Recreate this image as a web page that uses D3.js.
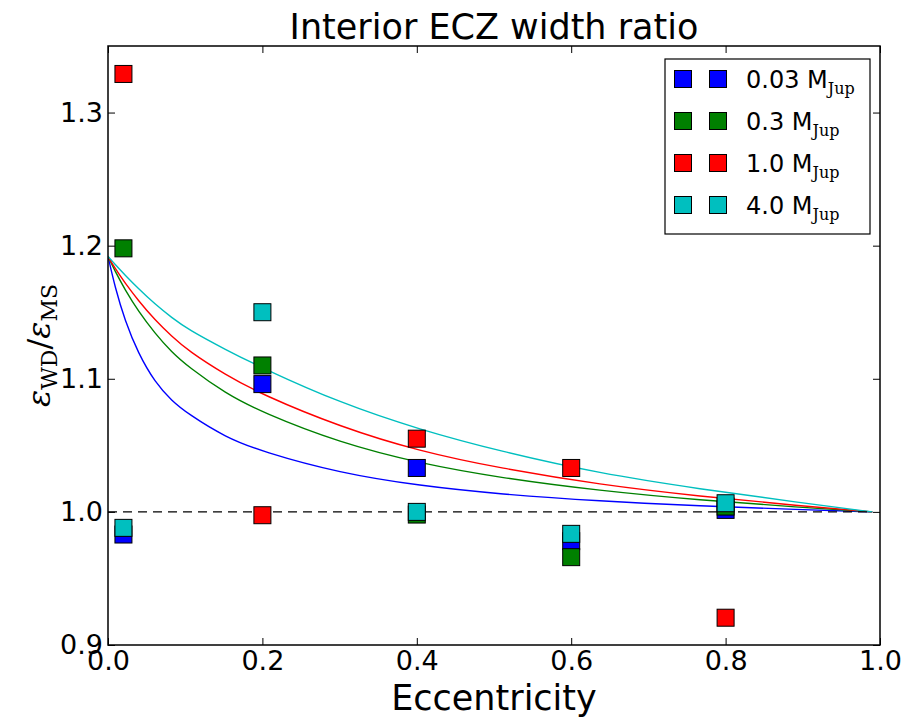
<!DOCTYPE html>
<html>
<head>
<meta charset="utf-8">
<script src="https://cdn.jsdelivr.net/npm/d3@7"></script>
<style>
  body { margin: 0; background: #fff; }
  svg { font-family: "DejaVu Sans", sans-serif; }
</style>
</head>
<body>
<div id="chart"></div>
<script>
// ---- data ----
var seriesNames = ["0.03", "0.3", "1.0", "4.0"];
var seriesColors = ["#0000ff", "#008000", "#ff0000", "#00bfbf"];

var ecc = [0.02, 0.2, 0.4, 0.6, 0.8];
var blueVals  = [0.983, 1.096, 1.033, 0.978, 1.0015];
var greenVals = [1.198, 1.110, 0.998, 0.966, 1.004];
var redVals   = [1.329, 0.9975, 1.055, 1.033, 0.9205];
var cyanVals  = [0.988, 1.150, 1.000, 0.9835, 1.0065];

// model curves
var curveE     = [0, 0.009, 0.022, 0.039, 0.061, 0.0825, 0.104, 0.152, 0.2, 0.3, 0.404, 0.508, 0.637, 0.767, 0.896, 0.99];
var blueCurve  = [1.192, 1.169, 1.1436, 1.1193, 1.0972, 1.0835, 1.0735, 1.0561, 1.0452, 1.0292, 1.0196, 1.0133, 1.0081, 1.0044, 1.0017, 1.0];
var greenCurve = [1.192, 1.181, 1.167, 1.151, 1.134, 1.120, 1.109, 1.089, 1.0746, 1.0519, 1.0364, 1.0256, 1.0159, 1.0088, 1.0035, 1.0];
var redCurve   = [1.192, 1.183, 1.172, 1.159, 1.144, 1.132, 1.121, 1.103, 1.088, 1.064, 1.0454, 1.0328, 1.0205, 1.0117, 1.0046, 1.0];
var cyanCurve  = [1.192, 1.186, 1.178, 1.168, 1.156, 1.146, 1.137, 1.122, 1.108, 1.082, 1.0617, 1.0455, 1.0288, 1.0172, 1.007, 1.0];

var xTicks = [0.0, 0.2, 0.4, 0.6, 0.8, 1.0];
var yTicks = [0.9, 1.0, 1.1, 1.2, 1.3];

var pointSets = [blueVals, greenVals, redVals, cyanVals];
var curveSets = [blueCurve, greenCurve, redCurve, cyanCurve];

// ---- layout ----  (names avoid window.top etc.)
var W = 914, H = 721;
var pL = 108, pR = 880, pT = 46, pB = 645;

var svg = d3.select("#chart").append("svg")
    .attr("width", W)
    .attr("height", H);

var x = d3.scaleLinear().domain([0, 1]).range([pL, pR]);
var y = d3.scaleLinear().domain([0.9, 1.35]).range([pB, pT]);

svg.append("defs").append("clipPath").attr("id", "clip")
  .append("rect")
    .attr("x", pL).attr("y", pT)
    .attr("width", pR - pL).attr("height", pB - pT);

var plot = svg.append("g").attr("clip-path", "url(#clip)");

// curves
var line = d3.line()
    .x(function(d) { return x(d[0]); })
    .y(function(d) { return y(d[1]); })
    .curve(d3.curveBasis);

curveSets.forEach(function(vals, i) {
  plot.append("path")
      .datum(curveE.map(function(e, j) { return [e, vals[j]]; }))
      .attr("d", line)
      .attr("fill", "none")
      .attr("stroke", seriesColors[i])
      .attr("stroke-width", 1.4);
});

// dashed unity line
plot.append("path")
    .datum([[0, 1], [0.99, 1]])
    .attr("d", line)
    .attr("stroke", "black")
    .attr("stroke-width", 1.4)
    .attr("stroke-dasharray", "9,6");

// markers
var ms = 17;
pointSets.forEach(function(vals, i) {
  plot.selectAll(".m" + i)
      .data(ecc.map(function(e, j) { return [e, vals[j]]; }))
    .enter().append("rect")
      .attr("class", "m" + i)
      .attr("x", function(d) { return x(d[0]) - ms / 2; })
      .attr("y", function(d) { return y(d[1]) - ms / 2; })
      .attr("width", ms)
      .attr("height", ms)
      .attr("fill", seriesColors[i])
      .attr("stroke", "black")
      .attr("stroke-width", 1);
});

// axes with inward ticks on all four sides
var tickLen = 7;
svg.append("g")
    .attr("transform", "translate(0," + pB + ")")
    .call(d3.axisBottom(x).tickValues(xTicks).tickSize(-tickLen).tickPadding(6).tickFormat(d3.format(".1f")));
svg.append("g")
    .attr("transform", "translate(0," + pT + ")")
    .call(d3.axisTop(x).tickValues(xTicks).tickSize(-tickLen).tickFormat(""));
svg.append("g")
    .attr("transform", "translate(" + pL + ",0)")
    .call(d3.axisLeft(y).tickValues(yTicks).tickSize(-tickLen).tickPadding(5).tickFormat(d3.format(".1f")));
svg.append("g")
    .attr("transform", "translate(" + pR + ",0)")
    .call(d3.axisRight(y).tickValues(yTicks).tickSize(-tickLen).tickFormat(""));

svg.selectAll(".domain").remove();
svg.selectAll(".tick line").attr("stroke", "black").attr("stroke-width", 1);
svg.selectAll(".tick text")
    .attr("font-family", "DejaVu Sans, sans-serif")
    .attr("font-size", 27)
    .attr("fill", "black");

svg.append("rect")
    .attr("x", pL).attr("y", pT)
    .attr("width", pR - pL).attr("height", pB - pT)
    .attr("fill", "none")
    .attr("stroke", "black")
    .attr("stroke-width", 1.5);

// title and labels
svg.append("text")
    .attr("x", (pL + pR) / 2)
    .attr("y", 39)
    .attr("text-anchor", "middle")
    .attr("font-size", 35)
    .text("Interior ECZ width ratio");

svg.append("text")
    .attr("x", (pL + pR) / 2)
    .attr("y", 710)
    .attr("text-anchor", "middle")
    .attr("font-size", 35)
    .text("Eccentricity");

var ylab = svg.append("text")
    .attr("transform", "translate(50," + ((pT + pB) / 2) + ") rotate(-90)")
    .attr("text-anchor", "middle")
    .attr("font-family", "DejaVu Serif, serif")
    .attr("font-size", 32);
ylab.append("tspan").attr("font-style", "italic").text("ε");
ylab.append("tspan").attr("font-size", 22).attr("dy", 7).text("WD");
ylab.append("tspan").attr("dy", -7).text("/");
ylab.append("tspan").attr("font-style", "italic").text("ε");
ylab.append("tspan").attr("font-size", 22).attr("dy", 7).text("MS");

// legend
var legend = svg.append("g");
legend.append("rect")
    .attr("x", 665).attr("y", 59)
    .attr("width", 205).attr("height", 175)
    .attr("fill", "white")
    .attr("stroke", "black")
    .attr("stroke-width", 1.2);

seriesNames.forEach(function(name, i) {
  var cy = 79 + i * 42;
  [683, 718].forEach(function(cx) {
    legend.append("rect")
        .attr("x", cx - ms / 2).attr("y", cy - ms / 2)
        .attr("width", ms).attr("height", ms)
        .attr("fill", seriesColors[i])
        .attr("stroke", "black")
        .attr("stroke-width", 1);
  });
  var t = legend.append("text")
      .attr("x", 746)
      .attr("y", cy + 9)
      .attr("font-size", 24);
  t.append("tspan").text(name + " M");
  t.append("tspan")
      .attr("font-family", "DejaVu Serif, serif")
      .attr("font-size", 16)
      .attr("dy", 6)
      .text("Jup");
});
</script>
</body>
</html>
